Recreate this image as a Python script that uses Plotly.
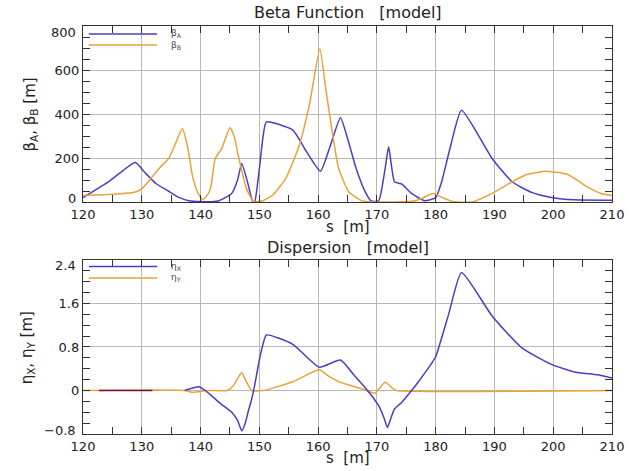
import plotly.graph_objects as go

# ---------------- data ----------------
s_beta_a = [120, 124.5, 128.9, 130.5, 132.4, 134.5, 136.3, 138.0, 140.0, 143.0, 145.3, 146.3, 147.0,
            148.0, 148.9, 149.2, 150.0, 150.6, 151.2, 155.7, 158.0, 160.4, 162.0, 163.8, 165.0,
            166.5, 168.0, 169.0, 170.3, 171.4, 172.0, 173.0, 174.2, 175.9, 178.1, 180.0, 181.0,
            182.5, 184.4, 189.6, 193.0, 196.3, 199.7, 203.6, 210.0]
beta_a = [20, 95, 180, 135, 84, 50, 21, 6, 2, 5, 39, 100, 175,
          90, 0, 0, 150, 290, 364, 327, 230, 140, 250, 383, 290,
          150, 47, 5, 5, 152, 251, 92, 82, 39, 6, 20, 90,
          250, 417, 198, 92, 44, 21, 10, 8]

s_beta_b = [120, 125, 128.7, 130.0, 131.8, 133.2, 134.6, 135.8, 136.9, 137.8, 138.6, 139.4, 140.3,
            141.0, 141.7, 142.5, 143.6, 145.0, 145.7, 146.4, 147.8, 149.0, 150.5, 152.3, 154.5,
            156.8, 158.5, 160.3, 161.3, 162.4, 163.5, 165.2, 167.5, 170.0, 176.0, 177.5, 179.5,
            181.0, 182.9, 186.2, 189.6, 193.0, 195.2, 198.6, 202.5, 205.3, 208.1, 210.0]
beta_b = [30, 35, 44, 60, 115, 160, 198, 270, 334, 250, 122, 50, 12,
          25, 62, 198, 243, 337, 300, 213, 62, 3, 5, 32, 107,
          258, 440, 697, 515, 319, 152, 47, 5, 0, 3, 15, 39,
          22, 2, 0, 39, 92, 122, 140, 125, 77, 39, 30]

s_eta_x = [137.3, 138.5, 139.7, 140.8, 141.9, 143.5, 145.3, 146.3, 147.0, 147.6, 148.2, 148.7,
           149.3, 149.8, 150.5, 151.2, 155.7, 160.2, 163.8, 166.2, 168.4, 170.3, 171.2, 171.8,
           172.4, 173.0, 174.2, 175.9, 177.2, 178.4, 179.2, 180.0, 182.2, 184.4, 189.6, 194.6,
           199.7, 203.6, 207.5, 210.0]
eta_x = [0.0, 0.04, 0.07, 0.0, -0.1, -0.25, -0.4, -0.55, -0.74, -0.6, -0.35, -0.16,
         0.15, 0.45, 0.8, 1.02, 0.85, 0.43, 0.56, 0.27, 0.0, -0.28, -0.5, -0.68,
         -0.5, -0.34, -0.22, 0.0, 0.18, 0.36, 0.48, 0.62, 1.4, 2.17, 1.37, 0.79,
         0.48, 0.34, 0.29, 0.23]

s_eta_y = [120, 137.3, 138.5, 140.0, 141.0, 144.5, 145.5, 146.3, 147.0, 147.7, 148.7, 150.7,
           155.7, 160.2, 162.0, 163.8, 167.5, 169.7, 170.5, 171.4, 172.8, 173.3, 210]
eta_y = [0, 0, -0.03, -0.02, 0, 0, 0.08, 0.22, 0.33, 0.18, 0.0, 0.0,
         0.16, 0.38, 0.25, 0.15, 0.03, -0.05, 0.05, 0.15, 0.03, 0, 0]

s_eta_seg = [122.7, 131.8]
eta_seg = [0, 0]

x_ticks = [120, 130, 140, 150, 160, 170, 180, 190, 200, 210]
beta_ticks = [0, 200, 400, 600, 800]
eta_ticks = [-0.8, 0, 0.8, 1.6, 2.4]
eta_tick_text = ["−0.8", "0", "0.8", "1.6", "2.4"]

legend_top = ["β<sub>A</sub>", "β<sub>B</sub>"]
legend_bot = ["η<sub>X</sub>", "η<sub>Y</sub>"]

NB = "\u00a0"
title_top = "Beta Function" + NB * 3 + "[model]"
title_bot = "Dispersion" + NB * 3 + "[model]"
xlabel = "s" + NB * 2 + "[m]"

BLUE = "#4d3cc6"
ORANGE = "#e8a33a"
MAROON = "#7a1048"
FONT = "DejaVu Sans"
TXT = "#222222"
SMOOTH = 0.5

fig = go.Figure()
fig.add_trace(go.Scatter(x=s_beta_a, y=beta_a, mode="lines", name="β_A", showlegend=False,
                         line=dict(color=BLUE, width=1.5, shape="spline", smoothing=SMOOTH),
                         xaxis="x", yaxis="y"))
fig.add_trace(go.Scatter(x=s_beta_b, y=beta_b, mode="lines", name="β_B", showlegend=False,
                         line=dict(color=ORANGE, width=1.5, shape="spline", smoothing=SMOOTH),
                         xaxis="x", yaxis="y"))
fig.add_trace(go.Scatter(x=s_eta_y, y=eta_y, mode="lines", name="η_Y", showlegend=False,
                         line=dict(color=ORANGE, width=1.5, shape="spline", smoothing=SMOOTH),
                         xaxis="x2", yaxis="y2"))
fig.add_trace(go.Scatter(x=s_eta_x, y=eta_x, mode="lines", name="η_X", showlegend=False,
                         line=dict(color=BLUE, width=1.5, shape="spline", smoothing=SMOOTH),
                         xaxis="x2", yaxis="y2"))
fig.add_trace(go.Scatter(x=s_eta_seg, y=eta_seg, mode="lines", showlegend=False,
                         line=dict(color=MAROON, width=1.5), xaxis="x2", yaxis="y2"))

axis_common = dict(
    showline=True, linecolor="#333333", linewidth=1.3, mirror="ticks",
    ticks="inside", ticklen=7, tickcolor="#333333", tickwidth=1.2,
    showgrid=True, gridcolor="#b8b8b8", gridwidth=1, zeroline=False,
    tickfont=dict(family=FONT, size=13, color=TXT),
)
minor_common = dict(ticks="inside", ticklen=7, tickcolor="#333333", showgrid=False)

# end tick labels are nudged inward (as in the reference) -> drawn as annotations
top_ticktext = ["" if v in (beta_ticks[0], beta_ticks[-1]) else str(v) for v in beta_ticks]
bot_ticktext = ["" if i in (0, len(eta_ticks) - 1) else t for i, t in enumerate(eta_tick_text)]

annotations = [
    dict(text=title_top, x=0.5, y=1.032, xref="paper", yref="paper",
         xanchor="center", yanchor="middle", showarrow=False, font=dict(family=FONT, size=16, color=TXT)),
    dict(text=title_bot, x=0.5, y=0.456, xref="paper", yref="paper",
         xanchor="center", yanchor="middle", showarrow=False, font=dict(family=FONT, size=16, color=TXT)),
    dict(text=xlabel, x=0.5, y=0.507, xref="paper", yref="paper",
         xanchor="center", yanchor="middle", showarrow=False, font=dict(family=FONT, size=15, color=TXT)),
    dict(text=xlabel, x=0.5, y=-0.059, xref="paper", yref="paper",
         xanchor="center", yanchor="middle", showarrow=False, font=dict(family=FONT, size=15, color=TXT)),
    dict(text="β<sub>A</sub>, β<sub>B</sub> [m]", x=-0.099, y=0.782, xref="paper", yref="paper",
         xanchor="center", yanchor="middle", textangle=-90, showarrow=False,
         font=dict(family=FONT, size=15, color=TXT)),
    dict(text="η<sub>X</sub>, η<sub>Y</sub> [m]", x=-0.105, y=0.211, xref="paper", yref="paper",
         xanchor="center", yanchor="middle", textangle=-90, showarrow=False,
         font=dict(family=FONT, size=15, color=TXT)),
    # nudged end tick labels
    dict(text=str(beta_ticks[0]), x=0, y=beta_ticks[0], xref="paper", yref="y", xanchor="right",
         yanchor="middle", xshift=-5, yshift=4, showarrow=False, font=dict(family=FONT, size=13, color=TXT)),
    dict(text=str(beta_ticks[-1]), x=0, y=beta_ticks[-1], xref="paper", yref="y", xanchor="right",
         yanchor="middle", xshift=-5, yshift=-6, showarrow=False, font=dict(family=FONT, size=13, color=TXT)),
    dict(text=eta_tick_text[0], x=0, y=eta_ticks[0], xref="paper", yref="y2", xanchor="right",
         yanchor="middle", xshift=-5, yshift=3, showarrow=False, font=dict(family=FONT, size=13, color=TXT)),
    dict(text=eta_tick_text[-1], x=0, y=eta_ticks[-1], xref="paper", yref="y2", xanchor="right",
         yanchor="middle", xshift=-5, yshift=-6, showarrow=False, font=dict(family=FONT, size=13, color=TXT)),
]

# hand-drawn legends (compact, as in the reference)
shapes = []
for (labels, colors, xr, yr, ys) in [
    (legend_top, [BLUE, ORANGE], "x domain", "y domain", [0.955, 0.892]),
    (legend_bot, [BLUE, ORANGE], "x2 domain", "y2 domain", [0.962, 0.897]),
]:
    for lab, col, yy in zip(labels, colors, ys):
        shapes.append(dict(type="line", xref=xr, yref=yr, x0=0.011, x1=0.140, y0=yy, y1=yy,
                           line=dict(color=col, width=1.5)))
        annotations.append(dict(text=lab, xref=xr, yref=yr, x=0.163, y=yy, xanchor="left",
                                yanchor="middle", showarrow=False,
                                font=dict(family=FONT, size=9, color="#444444")))

fig.update_layout(
    width=636, height=471,
    margin=dict(l=83, r=18, t=26, b=37),
    paper_bgcolor="white", plot_bgcolor="white",
    font=dict(family=FONT, color=TXT),
    showlegend=False,
    xaxis=dict(domain=[0, 1], anchor="y", range=[120, 210], tickvals=x_ticks,
               minor=dict(dtick=5, tick0=120, **minor_common), **axis_common),
    yaxis=dict(domain=[0.5686, 1], anchor="x", range=[0, 800], tickvals=beta_ticks,
               ticktext=top_ticktext, minor=dict(dtick=50, tick0=0, **minor_common), **axis_common),
    xaxis2=dict(domain=[0, 1], anchor="y2", range=[120, 210], tickvals=x_ticks,
                minor=dict(dtick=5, tick0=120, **minor_common), **axis_common),
    yaxis2=dict(domain=[0, 0.4265], anchor="x2", range=[-0.8, 2.4], tickvals=eta_ticks,
                ticktext=bot_ticktext, minor=dict(dtick=0.2, tick0=0, **minor_common), **axis_common),
    annotations=annotations,
    shapes=shapes,
)

fig.write_html("out.html")
